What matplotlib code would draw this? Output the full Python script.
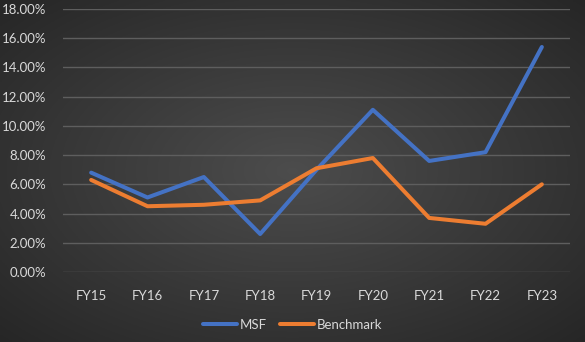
import numpy as np
import matplotlib as mpl
mpl.use("Agg")
import matplotlib.pyplot as plt
from matplotlib.ticker import PercentFormatter

years = ["FY15", "FY16", "FY17", "FY18", "FY19", "FY20", "FY21", "FY22", "FY23"]
msf = [6.8, 5.1, 6.5, 2.6, 7.0, 11.1, 7.6, 8.2, 15.4]
benchmark = [6.3, 4.5, 4.6, 4.9, 7.1, 7.8, 3.7, 3.3, 6.0]
yticks = [0, 2, 4, 6, 8, 10, 12, 14, 16, 18]

plt.rcParams['font.family'] = ['Lato', 'DejaVu Sans']
txt_col = "#d9d9d9"

fig = plt.figure(figsize=(5.85, 3.42), dpi=100)

# radial gradient background, darker at the edges
bg = fig.add_axes([0, 0, 1, 1], zorder=-5)
yy, xx = np.mgrid[-1:1:200j, -1:1:340j]
r = np.sqrt(xx**2 + yy**2) / np.sqrt(2)
shade = 0.30 - 0.15 * r
bg.imshow(np.dstack([shade] * 3), aspect="auto", extent=[0, 1, 0, 1])
bg.axis("off")

ax = fig.add_axes([0.1077, 0.2047, 0.8667, 0.769])
ax.patch.set_alpha(0)
x = np.arange(len(years))
ax.plot(x, msf, color="#4472C4", lw=2.9, solid_capstyle="round",
        solid_joinstyle="round", label="MSF")
ax.plot(x, benchmark, color="#ED7D31", lw=2.9, solid_capstyle="round",
        solid_joinstyle="round", label="Benchmark")

ax.set_xlim(-0.5, len(years) - 0.5)
ax.set_ylim(0, 18)
ax.set_yticks(yticks)
ax.yaxis.set_major_formatter(PercentFormatter(decimals=2))
ax.set_xticks(x)
ax.set_xticklabels(years)
ax.grid(axis="y", color="#5e5e5e", lw=1)
ax.set_axisbelow(True)
for s in ax.spines.values():
    s.set_visible(False)
ax.tick_params(length=0, colors=txt_col, labelsize=9.5)
ax.tick_params(axis="y", pad=12)
ax.tick_params(axis="x", pad=13)

# legend centred on the whole chart, like excel does
h, l = ax.get_legend_handles_labels()
leg = fig.legend(h, l, loc="center", bbox_to_anchor=(0.5, 0.05), ncol=2,
                 frameon=False, fontsize=9.5, handlelength=2.6,
                 handletextpad=0.2, columnspacing=1.0)
for t in leg.get_texts():
    t.set_color(txt_col)

fig.savefig("out.png", dpi=100)
